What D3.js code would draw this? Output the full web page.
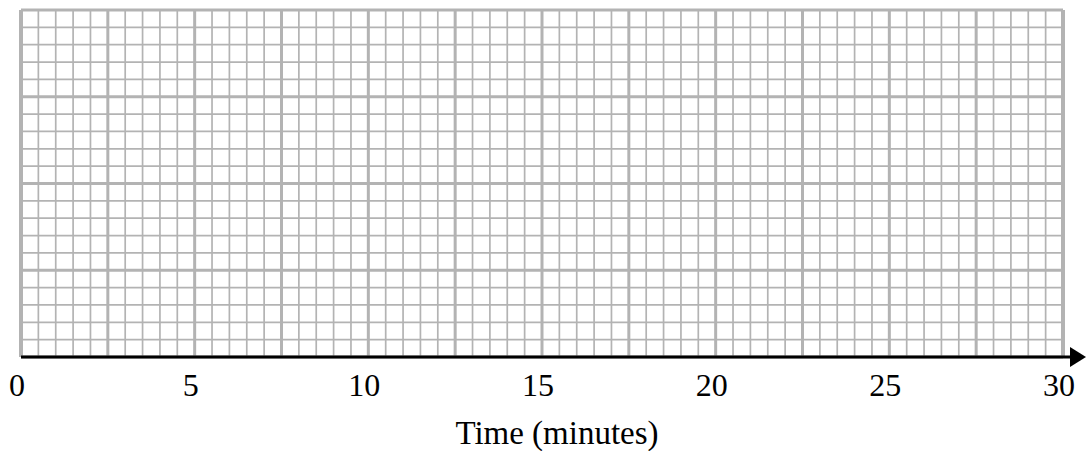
<!DOCTYPE html>
<html>
<head>
<meta charset="utf-8">
<title>Time (minutes)</title>
<script src="https://d3js.org/d3.v7.min.js"></script>
<style>
  body { margin: 0; background: #fff; }
  svg text { font-family: "Liberation Serif", "Times New Roman", serif; fill: #000; }
</style>
</head>
<body>
<div id="chart"></div>
<script>
// x axis: time in minutes
var xDomain = [0, 30];
var xTicks = [0, 5, 10, 15, 20, 25, 30];
var xMinor = 0.5;   // one small square
var xMajor = 2.5;   // one big square
// y: no labels, just 20 small squares
var yDomain = [0, 20];
var yMinor = 1;
var yMajor = 5;
var xTitle = "Time (minutes)";

var width = 1086, height = 451;
var plotLeft = 21, plotRight = 1063, plotTop = 10, plotBottom = 357;

var svg = d3.select("#chart").append("svg")
  .attr("width", width)
  .attr("height", height);

var x = d3.scaleLinear().domain(xDomain).range([plotLeft, plotRight]);
var y = d3.scaleLinear().domain(yDomain).range([plotBottom, plotTop]);

var gridColor = "#b3b3b3";
var grid = svg.append("g");

// small squares
var eps = 1e-6;
var xm = d3.range(xDomain[0], xDomain[1] + eps, xMinor);
var ym = d3.range(yDomain[0], yDomain[1] + eps, yMinor);

grid.selectAll("line.vmin").data(xm).enter().append("line")
  .attr("x1", function(d) { return x(d); })
  .attr("x2", function(d) { return x(d); })
  .attr("y1", y(yDomain[0]))
  .attr("y2", y(yDomain[1]))
  .style("stroke", gridColor)
  .style("stroke-width", function(d) {
    if (d == xDomain[0] || d == xDomain[1]) return 4;
    return Math.abs(d / xMajor - Math.round(d / xMajor)) < eps ? 3 : 1.7;
  });

grid.selectAll("line.hmin").data(ym).enter().append("line")
  .attr("x1", x(xDomain[0]))
  .attr("x2", x(xDomain[1]))
  .attr("y1", function(d) { return y(d); })
  .attr("y2", function(d) { return y(d); })
  .style("stroke", gridColor)
  .style("stroke-width", function(d) {
    return Math.abs(d / yMajor - Math.round(d / yMajor)) < eps ? 3 : 1.7;
  });

// x axis with arrow
svg.append("line")
  .attr("x1", x(xDomain[0]))
  .attr("x2", 1072)
  .attr("y1", y(0))
  .attr("y2", y(0))
  .style("stroke", "#000")
  .style("stroke-width", 3);

svg.append("path")
  .attr("d", "M1070," + (y(0) - 10) + "L1086," + y(0) + "L1070," + (y(0) + 10) + "Z")
  .style("fill", "#000");

// tick labels
svg.selectAll("text.tick").data(xTicks).enter().append("text")
  .attr("class", "tick")
  .attr("x", function(d) { return x(d) - 4; })
  .attr("y", 396)
  .attr("text-anchor", "middle")
  .style("font-size", "32px")
  .text(function(d) { return d; });

svg.append("text")
  .attr("x", 557)
  .attr("y", 444)
  .attr("text-anchor", "middle")
  .style("font-size", "33px")
  .text(xTitle);
</script>
</body>
</html>
